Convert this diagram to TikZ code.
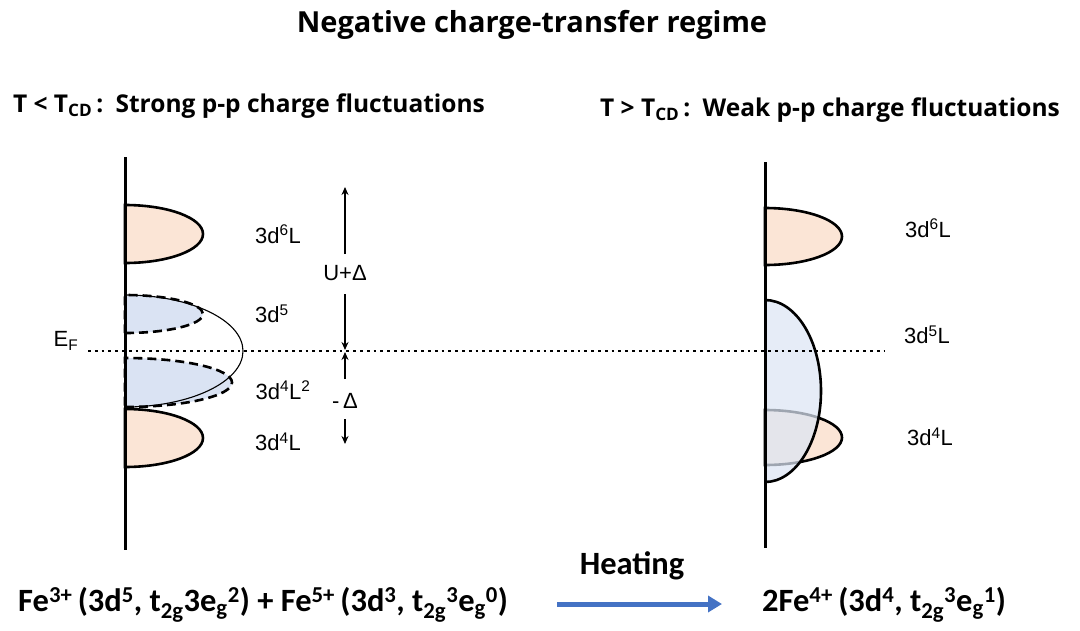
\documentclass[tikz,border=0pt]{standalone}
\usepackage{fontspec}
\setmainfont{Liberation Sans}
\newfontfamily\headfont{Open Sans}
\newfontfamily\calfont{Carlito}
\usetikzlibrary{arrows.meta}
\definecolor{peach}{HTML}{FBE5D6}
\definecolor{lblue}{HTML}{DAE3F3}
\definecolor{rblue}{HTML}{DCE5F4}
\definecolor{arrowblue}{HTML}{4472C4}
\tikzset{
  axisline/.style={line width=3pt},
  lobe/.style={line width=2.6pt, fill=peach},
  dashlobe/.style={line width=2.6pt, fill=lblue, dash pattern=on 9pt off 5pt},
  fermi/.style={line width=2.8pt, dash pattern=on 2.8pt off 4pt},
  lbl/.style={font=\fontsize{22}{26}\selectfont, inner sep=0pt},
  head/.style={font=\headfont\bfseries\fontsize{24.5}{29}\selectfont, inner sep=0pt},
  formula/.style={font=\calfont\bfseries\fontsize{32.5}{38}\selectfont, inner sep=0pt},
  gap/.style={line width=1.5pt, -{Stealth[length=8pt,width=7pt]}},
}
\begin{document}
\begin{tikzpicture}[x=1pt,y=-1pt]
\useasboundingbox (0,0) rectangle (1080,630);

% title and headings
\node[font=\headfont\bfseries\fontsize{29}{34}\selectfont, inner sep=0pt] (title) at (532,25) {Negative charge-transfer regime};
\node[head] (hleft) at (249,106) {T < T\textsubscript{CD}\,:\enspace Strong p-p charge fluctuations};
\node[head] (hright) at (830,110) {T > T\textsubscript{CD}\,:\enspace Weak p-p charge fluctuations};

% ---------- left panel ----------
\fill[lblue] (125,333) arc[start angle=90,end angle=-90,x radius=78,y radius=19] -- cycle;
\fill[lblue] (125,407) arc[start angle=90,end angle=-90,x radius=107,y radius=24.5] -- cycle;
\draw[line width=1.1pt] (125,407) arc[start angle=90,end angle=-90,x radius=118,y radius=56];
\draw[dashlobe, fill=none] (125,333) arc[start angle=90,end angle=-90,x radius=78,y radius=19] -- cycle;
\draw[dashlobe, fill=none] (125,407) arc[start angle=90,end angle=-90,x radius=107,y radius=24.5] -- cycle;
\draw[lobe] (125,263) arc[start angle=90,end angle=-90,x radius=78,y radius=29] -- cycle;
\draw[lobe] (125,467) arc[start angle=90,end angle=-90,x radius=78,y radius=29] -- cycle;
\coordinate (lax1) at (125,157);
\coordinate (lax2) at (125,550);
\draw[axisline] (lax1) -- (lax2);

\node[lbl] (l6) at (278,234) {3d\textsuperscript{6}L};
\node[lbl] (l5) at (272,314) {3d\textsuperscript{5}};
\node[lbl] (l42) at (283,390) {3d\textsuperscript{4}L\textsuperscript{2}};
\node[lbl] (l4) at (278,442) {3d\textsuperscript{4}L};

\node[lbl] (ef) at (66,341) {E\textsubscript{F}};

% energy arrows
\node[lbl] (upd) at (345,273) {U+Δ};
\node[lbl] (md) at (345,401) {-\,Δ};
\coordinate (uptop) at (345,187);
\coordinate (efpt) at (345,351);
\coordinate (mdbot) at (345,444);
\draw[gap] (345,254) -- (uptop);
\draw[gap] (345,294) -- (345,350);
\draw[gap] (345,379) -- (345,352);
\draw[gap] (345,419) -- (mdbot);

% ---------- right panel ----------
\draw[lobe] (765,265) arc[start angle=90,end angle=-90,x radius=77,y radius=28.5] -- cycle;
\draw[lobe] (765,465) arc[start angle=90,end angle=-90,x radius=77,y radius=27.5] -- cycle;
\fill[rblue, fill opacity=0.72] (765,482) arc[start angle=90,end angle=-90,x radius=56,y radius=91] -- cycle;
\draw[line width=2.6pt] (765,482) arc[start angle=90,end angle=-90,x radius=56,y radius=91];
\coordinate (rax1) at (765,162);
\coordinate (rax2) at (765,548);
\draw[axisline] (rax1) -- (rax2);

\node[lbl] (r6) at (928,228) {3d\textsuperscript{6}L};
\node[lbl] (r5) at (927,335) {3d\textsuperscript{5}L};
\node[lbl] (r4) at (930,437) {3d\textsuperscript{4}L};

% Fermi level
\coordinate (ef1) at (88,351);
\coordinate (ef2) at (885,351);
\draw[fermi] (ef1) -- (ef2);

% ---------- bottom ----------
\node[formula, anchor=west] (left) at (18,605)
  {Fe\textsuperscript{3+}\,(3d\textsuperscript{5}, t\textsubscript{2g}3e\textsubscript{g}\textsuperscript{2}) + Fe\textsuperscript{5+}\,(3d\textsuperscript{3}, t\textsubscript{2g}\textsuperscript{3}e\textsubscript{g}\textsuperscript{0})};
\node[formula, anchor=west] (right) at (762,605)
  {2Fe\textsuperscript{4+}\,(3d\textsuperscript{4}, t\textsubscript{2g}\textsuperscript{3}e\textsubscript{g}\textsuperscript{1})};
\node[formula] (heat) at (632,566) {Heating};
\coordinate (ha) at (557,604);
\coordinate (hb) at (722,604);
\draw[arrowblue, line width=5pt, -{Triangle[length=14pt,width=16pt]}] (ha) -- (hb);
\end{tikzpicture}
\end{document}
